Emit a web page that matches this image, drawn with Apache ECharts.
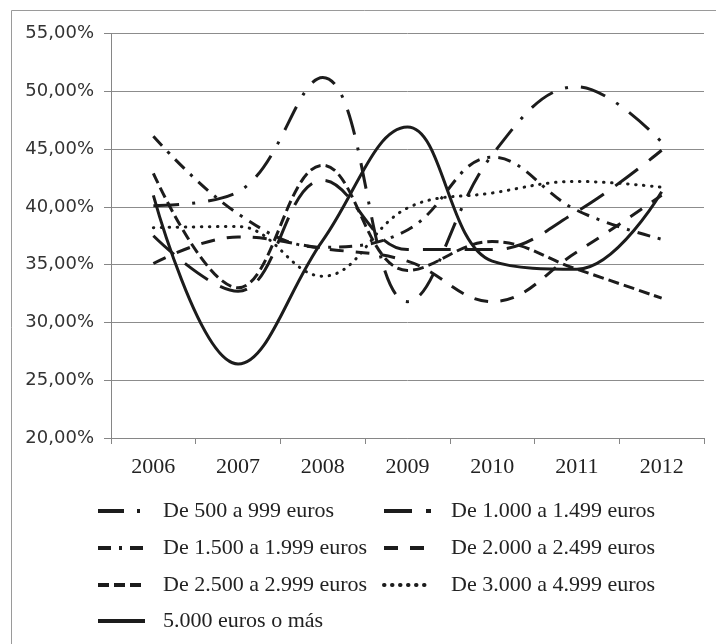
<!DOCTYPE html>
<html>
<head>
<meta charset="utf-8">
<script src="https://cdn.jsdelivr.net/npm/echarts@6/dist/echarts.min.js"></script>
<style>
  html, body { margin: 0; padding: 0; background: #fff; }
  #chart { width: 716px; height: 644px; }
</style>
</head>
<body>
<div id="chart"></div>
<script>
// Años del periodo
const years = ['2006', '2007', '2008', '2009', '2010', '2011', '2012'];

// Porcentaje por tramo de ingresos (%)
const tramo500  = [40.1, 41.3, 51.2, 31.8, 44.5, 50.4, 45.6];
const tramo1000 = [37.5, 32.7, 42.3, 36.3, 36.3, 39.6, 44.9];
const tramo1500 = [46.1, 39.4, 36.5, 38.0, 44.3, 39.7, 37.2];
const tramo2000 = [35.1, 37.4, 36.4, 35.3, 31.8, 36.1, 41.0];
const tramo2500 = [42.9, 33.0, 43.6, 34.5, 37.0, 34.6, 32.1];
const tramo3000 = [38.2, 38.3, 34.0, 39.9, 41.2, 42.2, 41.7];
const tramo5000 = [41.0, 26.4, 37.1, 46.9, 35.3, 34.6, 41.3];

// Nombres de la leyenda
const names = [
  'De 500 a 999 euros',
  'De 1.000 a 1.499 euros',
  'De 1.500 a 1.999 euros',
  'De 2.000 a 2.499 euros',
  'De 2.500 a 2.999 euros',
  'De 3.000 a 4.999 euros',
  '5.000 euros o más'
];

const ink = '#1c1c1c';
const dashes = {
  'De 500 a 999 euros':     { type: [26, 13, 3, 13], cap: 'butt' },
  'De 1.000 a 1.499 euros': { type: [28, 14], cap: 'butt' },
  'De 1.500 a 1.999 euros': { type: [13, 8, 3, 8], cap: 'butt' },
  'De 2.000 a 2.499 euros': { type: [14, 12], cap: 'butt' },
  'De 2.500 a 2.999 euros': { type: [11, 5], cap: 'butt' },
  'De 3.000 a 4.999 euros': { type: [0.5, 7.5], cap: 'round' },
  '5.000 euros o más':      { type: 'solid', cap: 'butt' }
};
const values = [tramo500, tramo1000, tramo1500, tramo2000, tramo2500, tramo3000, tramo5000];

const series = names.map((n, i) => ({
  name: n,
  type: 'line',
  data: values[i],
  smooth: 0.4,
  symbol: 'none',
  lineStyle: { color: ink, width: 3, type: dashes[n].type, cap: dashes[n].cap },
  itemStyle: { color: ink },
  z: 3
}));

// Leyenda en dos columnas, una entrada por componente
const legendPos = [
  [91, 495], [377, 495],
  [91, 532], [377, 532],
  [91, 569], [377, 569],
  [91, 605]
];
const legends = names.map((n, i) => ({
  data: [n],
  left: legendPos[i][0],
  top: legendPos[i][1],
  orient: 'horizontal',
  itemWidth: 47,
  itemHeight: 16,
  selectedMode: false,
  itemStyle: { color: 'rgba(0,0,0,0)', borderWidth: 0, opacity: 0 },
  lineStyle: { width: 4 },
  textStyle: {
    fontFamily: 'Liberation Serif',
    fontSize: 22,
    color: '#222',
    padding: [0, 0, 0, i % 2 === 0 ? 13 : 15]
  }
}));

const chart = echarts.init(document.getElementById('chart'), null, { renderer: 'canvas' });
chart.setOption({
  animation: false,
  backgroundColor: '#fff',
  grid: { left: 111, right: 12, top: 33.5, bottom: 206, containLabel: false },
  graphic: [{
    type: 'rect',
    shape: { x: 11.5, y: 10.5, width: 730, height: 660 },
    style: { fill: 'none', stroke: '#9a9a9a', lineWidth: 1 },
    silent: true,
    z: -1
  }],
  legend: legends,
  xAxis: {
    type: 'category',
    data: years,
    boundaryGap: true,
    axisLine: { lineStyle: { color: '#868686', width: 1 } },
    axisTick: { show: true, length: 6, lineStyle: { color: '#868686' } },
    axisLabel: { fontFamily: 'Liberation Serif', fontSize: 22, color: '#222', margin: 18 }
  },
  yAxis: {
    type: 'value',
    min: 20,
    max: 55,
    interval: 5,
    axisLine: { show: true, lineStyle: { color: '#868686', width: 1 } },
    axisTick: { show: true, length: 7, lineStyle: { color: '#868686' } },
    splitLine: { lineStyle: { color: '#8c8c8c', width: 1 } },
    axisLabel: {
      fontFamily: 'DejaVu Sans',
      fontSize: 18,
      color: '#333',
      margin: 17,
      formatter: v => v.toFixed(2).replace('.', ',') + '%'
    }
  },
  series: series
});
</script>
</body>
</html>
